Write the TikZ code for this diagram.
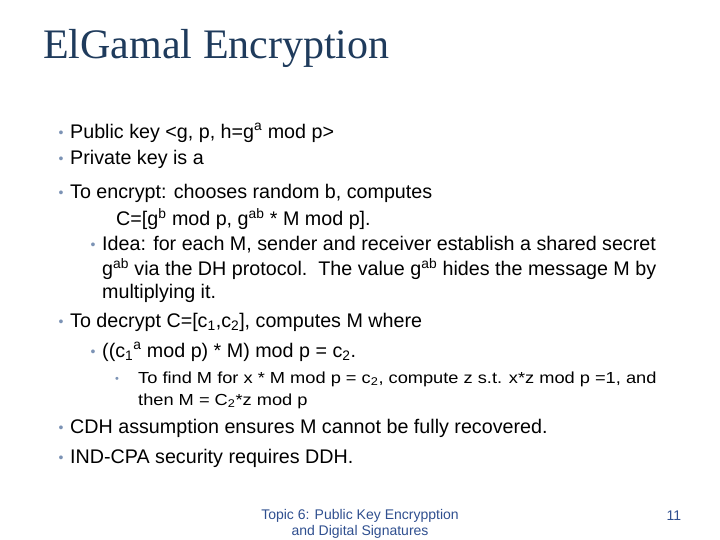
\documentclass[tikz,border=0pt]{standalone}
\usepackage{fontspec}
\setmainfont{Liberation Sans}
\newfontfamily\titlefont{Liberation Serif}
\definecolor{titlec}{HTML}{1F3B5C}
\definecolor{bulc}{HTML}{7C93B5}
\definecolor{footc}{HTML}{2F4F8F}
\newcommand{\sq}[1]{\scalebox{1.14}[1]{#1}}
\begin{document}
\begin{tikzpicture}[x=1pt,y=-1pt,
  txt/.style={anchor=west,inner sep=0pt,font=\fontsize{19.7}{21}\selectfont},
  stxt/.style={anchor=west,inner sep=0pt,font=\fontsize{16}{22}\selectfont,align=left},
  bul/.style={inner sep=0pt,text=bulc,font=\fontsize{14}{14}\selectfont},
  foot/.style={inner sep=0pt,text=footc,font=\fontsize{14}{16}\selectfont,align=center}]
\useasboundingbox (0,0) rectangle (720,540);
\node[anchor=west,inner sep=0pt,text=titlec,font=\titlefont\fontsize{42}{44}\selectfont] (title) at (43,48) {ElGamal Encryption};
\node[bul] (b1) at (61,134) {•}; \node[txt] (t1) at (70,133) {Public key <g, p, h=g\textsuperscript{a} mod p>};
\node[bul] (b2) at (61,160) {•}; \node[txt] (t2) at (70,159) {Private key is a};
\node[bul] (b3) at (61,194) {•}; \node[txt] (t3) at (70,193) {To encrypt: chooses random b, computes};
\node[txt] (t3b) at (116,219) {C=[g\textsuperscript{b} mod p, g\textsuperscript{ab} * M mod p].};
\node[bul] (b4) at (93,246) {•}; \node[txt] (t4) at (102,245) {Idea: for each M, sender and receiver establish a shared secret};
\node[txt] (t4b) at (102,269) {g\textsuperscript{ab} via the DH protocol.\ \ The value g\textsuperscript{ab} hides the message M by};
\node[txt] (t4c) at (102,293) {multiplying it.};
\node[bul] (b5) at (61,323) {•}; \node[txt] (t5) at (70,322) {To decrypt C=[c\textsubscript{1},c\textsubscript{2}], computes M where};
\node[bul] (b6) at (93,353) {•}; \node[txt] (t6) at (102,352) {((c\textsubscript{1}\textsuperscript{a} mod p) * M) mod p = c\textsubscript{2}.};
\node[bul,font=\fontsize{11}{11}\selectfont] (b7) at (117,380) {•};
\node[stxt] (t7) at (138,379) {\sq{To find M for x * M mod p = c\textsubscript{2}, compute z s.t. x*z mod p =1, and}};
\node[stxt] (t7b) at (138,401) {\sq{then M = C\textsubscript{2}*z mod p}};
\node[bul] (b8) at (61,429) {•}; \node[txt] (t8) at (70,428) {CDH assumption ensures M cannot be fully recovered.};
\node[bul] (b9) at (61,459) {•}; \node[txt] (t9) at (70,458) {IND-CPA security requires DDH.};
\node[foot] (f) at (360,524) {Topic 6: Public Key Encrypption\\and Digital Signatures};
\node[foot] (n) at (674,516) {11};
\end{tikzpicture}
\end{document}
